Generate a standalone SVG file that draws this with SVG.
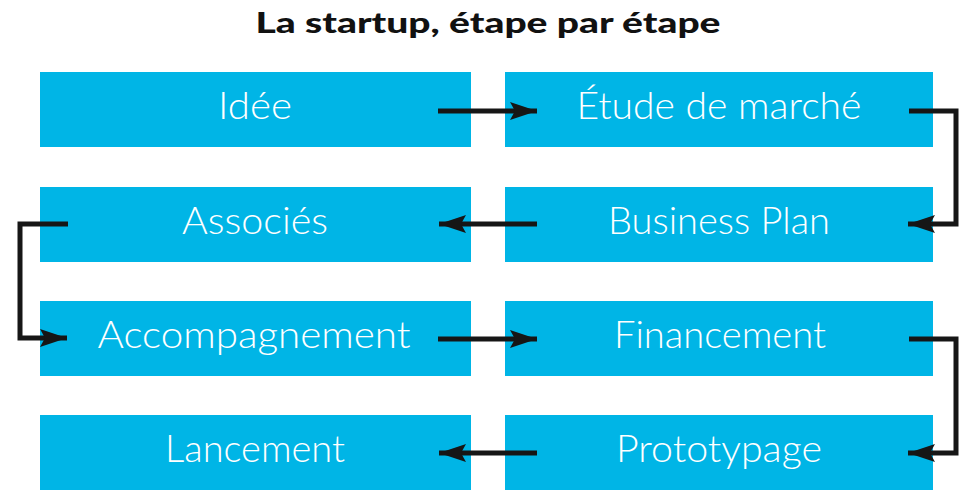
<svg xmlns="http://www.w3.org/2000/svg" width="976" height="500" viewBox="0 0 976 500">
<defs>
<style>
.box{fill:#00B5E6}
.lbl{font-family:Lato,"Open Sans","Liberation Sans",sans-serif;font-weight:300;font-size:38px;fill:#fff;text-anchor:middle}
.title{font-family:Lato,"Liberation Sans",sans-serif;font-weight:900;font-size:29px;fill:#111;text-anchor:middle}
.conn{fill:none;stroke:#161616;stroke-width:5;marker-end:url(#ah)}
</style>
<marker id="ah" markerUnits="userSpaceOnUse" markerWidth="30" markerHeight="22" refX="27" refY="10" orient="auto" viewBox="0 0 30 20">
<path d="M27,10 L0,1 L5,10 L0,19 Z" fill="#161616"/>
</marker>
</defs>
<rect width="976" height="500" fill="#fff"/>
<text class="title" x="488" y="33" textLength="465" lengthAdjust="spacingAndGlyphs">La startup, étape par étape</text>
<g id="n1"><rect class="box" x="40" y="72" width="431" height="75"/><text class="lbl" x="255" y="119" textLength="74" lengthAdjust="spacingAndGlyphs">Idée</text></g>
<g id="n2"><rect class="box" x="505" y="72" width="428" height="75"/><text class="lbl" x="719" y="119" textLength="285" lengthAdjust="spacingAndGlyphs">Étude de marché</text></g>
<g id="n3"><rect class="box" x="505" y="187" width="428" height="75"/><text class="lbl" x="719" y="234" textLength="222" lengthAdjust="spacingAndGlyphs">Business Plan</text></g>
<g id="n4"><rect class="box" x="40" y="187" width="431" height="75"/><text class="lbl" x="255" y="234" textLength="146" lengthAdjust="spacingAndGlyphs">Associés</text></g>
<g id="n5"><rect class="box" x="40" y="301" width="431" height="75"/><text class="lbl" x="254" y="348" textLength="313" lengthAdjust="spacingAndGlyphs">Accompagnement</text></g>
<g id="n6"><rect class="box" x="505" y="301" width="428" height="75"/><text class="lbl" x="720" y="348" textLength="212" lengthAdjust="spacingAndGlyphs">Financement</text></g>
<g id="n7"><rect class="box" x="505" y="415" width="428" height="75"/><text class="lbl" x="719" y="462" textLength="206" lengthAdjust="spacingAndGlyphs">Prototypage</text></g>
<g id="n8"><rect class="box" x="40" y="415" width="431" height="75"/><text class="lbl" x="255" y="462" textLength="180" lengthAdjust="spacingAndGlyphs">Lancement</text></g>
<g id="connectors">
<path class="conn" d="M438,111 L537,111"/>
<path class="conn" d="M909,111 L956,111 L956,224 L908,224"/>
<path class="conn" d="M537,224 L439,224"/>
<path class="conn" d="M68,224 L20,224 L20,338 L67,338"/>
<path class="conn" d="M438,339 L537,339"/>
<path class="conn" d="M909,339 L956,339 L956,453 L908,453"/>
<path class="conn" d="M537,453 L439,453"/>
</g>
</svg>
